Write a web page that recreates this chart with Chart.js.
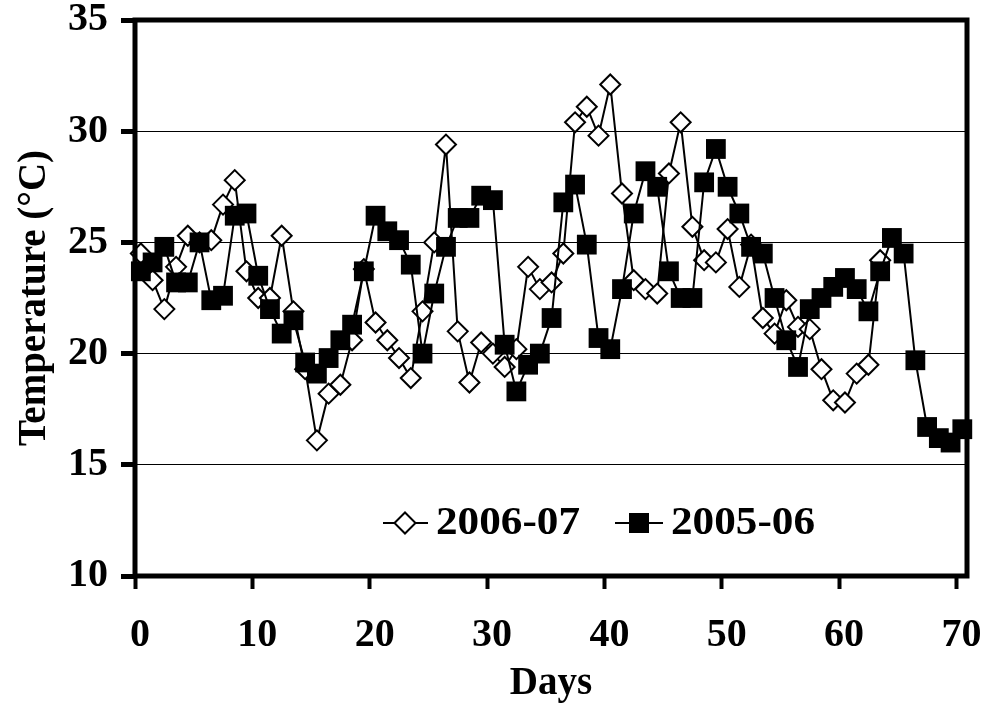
<!DOCTYPE html>
<html>
<head>
<meta charset="utf-8">
<script src="https://cdn.jsdelivr.net/npm/chart.js@4.4.1/dist/chart.umd.min.js"></script>
<style>
  html, body { margin: 0; padding: 0; background: #fff; }
  #wrap { width: 988px; height: 708px; }
</style>
</head>
<body>
<div id="wrap"><canvas id="c" width="988" height="708"></canvas></div>
<script>
// Daily mean temperature (°C) for two seasons
const days = [
  0.5, 1.5, 2.5, 3.5, 4.5, 5.5, 6.5, 7.5, 8.5, 9.5,
  10.5, 11.5, 12.5, 13.5, 14.5, 15.5, 16.5, 17.5, 18.5, 19.5,
  20.5, 21.5, 22.5, 23.5, 24.5, 25.5, 26.5, 27.5, 28.5, 29.5,
  30.5, 31.5, 32.5, 33.5, 34.5, 35.5, 36.5, 37.5, 38.5, 39.5,
  40.5, 41.5, 42.5, 43.5, 44.5, 45.5, 46.5, 47.5, 48.5, 49.5,
  50.5, 51.5, 52.5, 53.5, 54.5, 55.5, 56.5, 57.5, 58.5, 59.5,
  60.5, 61.5, 62.5, 63.5, 64.5, 65.5, 66.5, 67.5, 68.5, 69.5,
  70.5
];

const temp2005_06 = [
  23.7, 24.1, 24.8, 23.2, 23.2, 25.0, 22.4, 22.6, 26.2, 26.3,
  23.5, 22.0, 20.9, 21.5, 19.6, 19.1, 19.8, 20.6, 21.3, 23.7,
  26.2, 25.5, 25.1, 24.0, 20.0, 22.7, 24.8, 26.1, 26.1, 27.1,
  26.9, 20.4, 18.3, 19.5, 20.0, 21.6, 26.8, 27.6, 24.9, 20.7,
  20.2, 22.9, 26.3, 28.2, 27.5, 23.7, 22.5, 22.5, 27.7, 29.2,
  27.5, 26.3, 24.8, 24.5, 22.5, 20.6, 19.4, 22.0, 22.5, 23.0,
  23.4, 22.9, 21.9, 23.7, 25.2, 24.5, 19.7, 16.7, 16.2, 16.0,
  16.6
];

const temp2006_07 = [
  24.5, 23.3, 22.0, 23.9, 25.3, 25.0, 25.1, 26.7, 27.8, 23.7,
  22.5, 22.5, 25.3, 21.9, 19.3, 16.1, 18.2, 18.6, 20.6, 23.8,
  21.4, 20.6, 19.8, 18.9, 21.9, 25.0, 29.4, 21.0, 18.7, 20.5,
  20.0, 19.4, 20.2, 23.9, 22.9, 23.2, 24.5, 30.4, 31.1, 29.8,
  32.1, 27.2, 23.3, 22.9, 22.7, 28.1, 30.4, 25.7, 24.2, 24.1,
  25.6, 23.0, 24.9, 21.6, 20.9, 22.4, 21.2, 21.1, 19.3, 17.9,
  17.8, 19.1, 19.5, 24.2
];

const seriesNames = ['2006-07', '2005-06'];
const xTickValues = [0, 10, 20, 30, 40, 50, 60, 70];
const yTickValues = [10, 15, 20, 25, 30, 35];

const FONT_FAMILY = '"Liberation Serif", "Times New Roman", serif';
const TITLE_FONT = { family: FONT_FAMILY, weight: 'bold', size: 39, lineHeight: 1 };
const TICK_FONT = { family: FONT_FAMILY, weight: 'bold', size: 40, lineHeight: 1 };

const toPoints = (ys) => ys.map((y, i) => ({ x: days[i], y }));

// thick frame round the plotting area
const framePlugin = {
  id: 'frame',
  afterDatasetsDraw(chart) {
    const { ctx, chartArea: a } = chart;
    ctx.save();
    ctx.strokeStyle = '#000';
    ctx.lineWidth = 5;
    ctx.strokeRect(a.left, a.top, a.right - a.left, a.bottom - a.top);
    ctx.restore();
  }
};

// legend inside the plot: line sample with its marker, then the label
const insideLegend = {
  id: 'insideLegend',
  afterDraw(chart) {
    const { ctx } = chart;
    const y = 523;
    ctx.save();
    ctx.strokeStyle = '#000';
    ctx.lineWidth = 2;
    // open diamond
    ctx.beginPath(); ctx.moveTo(383, y); ctx.lineTo(428, y); ctx.stroke();
    const r = 10.5, cx = 405;
    ctx.beginPath();
    ctx.moveTo(cx - r, y); ctx.lineTo(cx, y - r); ctx.lineTo(cx + r, y); ctx.lineTo(cx, y + r); ctx.closePath();
    ctx.fillStyle = '#fff'; ctx.fill(); ctx.stroke();
    // filled square
    ctx.beginPath(); ctx.moveTo(615, y); ctx.lineTo(663, y); ctx.stroke();
    ctx.fillStyle = '#000';
    ctx.fillRect(639 - 10, y - 10, 20, 20);
    ctx.font = 'bold 40px ' + FONT_FAMILY;
    ctx.textBaseline = 'middle';
    ctx.textAlign = 'left';
    const labelX = [436, 671];
    seriesNames.forEach((name, i) => {
      ctx.save();
      ctx.translate(labelX[i], y + 1);
      ctx.scale(1.08, 1);
      ctx.fillText(name, 0, 0);
      ctx.restore();
    });
    ctx.restore();
  }
};

new Chart(document.getElementById('c'), {
  type: 'line',
  data: {
    datasets: [
      {
        label: seriesNames[1],
        data: toPoints(temp2005_06),
        borderColor: '#000',
        borderWidth: 2,
        pointStyle: 'rect',
        pointRadius: 14,
        pointBorderWidth: 0,
        pointBackgroundColor: '#000',
        pointBorderColor: '#000',
        tension: 0,
        clip: false
      },
      {
        label: seriesNames[0],
        data: toPoints(temp2006_07),
        borderColor: '#000',
        borderWidth: 2,
        pointStyle: 'rectRot',
        pointRadius: 10,
        pointBorderWidth: 2,
        pointBackgroundColor: '#fff',
        pointBorderColor: '#000',
        tension: 0,
        clip: false
      }
    ]
  },
  options: {
    responsive: false,
    devicePixelRatio: 1,
    animation: false,
    layout: { padding: { left: 0, right: 21, top: 20, bottom: 5 } },
    plugins: {
      legend: { display: false },
      tooltip: { enabled: false }
    },
    scales: {
      x: {
        type: 'linear',
        min: 0,
        max: 70.9,
        afterBuildTicks(scale) { scale.ticks = xTickValues.map(v => ({ value: v })); },
        afterFit(scale) {
          scale.height = 127;
          scale.paddingLeft = 0;
          scale.paddingRight = 0;
        },
        border: { display: false },
        grid: { drawOnChartArea: false, drawTicks: true, tickLength: 13, tickWidth: 4, tickColor: '#000' },
        ticks: { color: '#000', font: TICK_FONT, padding: 27, maxRotation: 0, labelOffset: 5 },
        title: { display: true, text: 'Days', color: '#000', font: TITLE_FONT, padding: { top: 0, bottom: 0 } }
      },
      y: {
        type: 'linear',
        min: 10,
        max: 35,
        afterBuildTicks(scale) { scale.ticks = yTickValues.map(v => ({ value: v })); },
        afterFit(scale) {
          scale.width = 135;
          scale.paddingTop = 0;
          scale.paddingBottom = 0;
        },
        border: { display: false },
        grid: { color: '#000', lineWidth: 1, drawTicks: true, tickLength: 14, tickWidth: 5, tickColor: '#000' },
        ticks: { color: '#000', font: TICK_FONT, padding: 13 },
        title: { display: true, text: 'Temperature (°C)', color: '#000', font: TITLE_FONT, padding: { top: 15, bottom: 0 } }
      }
    }
  },
  plugins: [framePlugin, insideLegend]
});
</script>
</body>
</html>
